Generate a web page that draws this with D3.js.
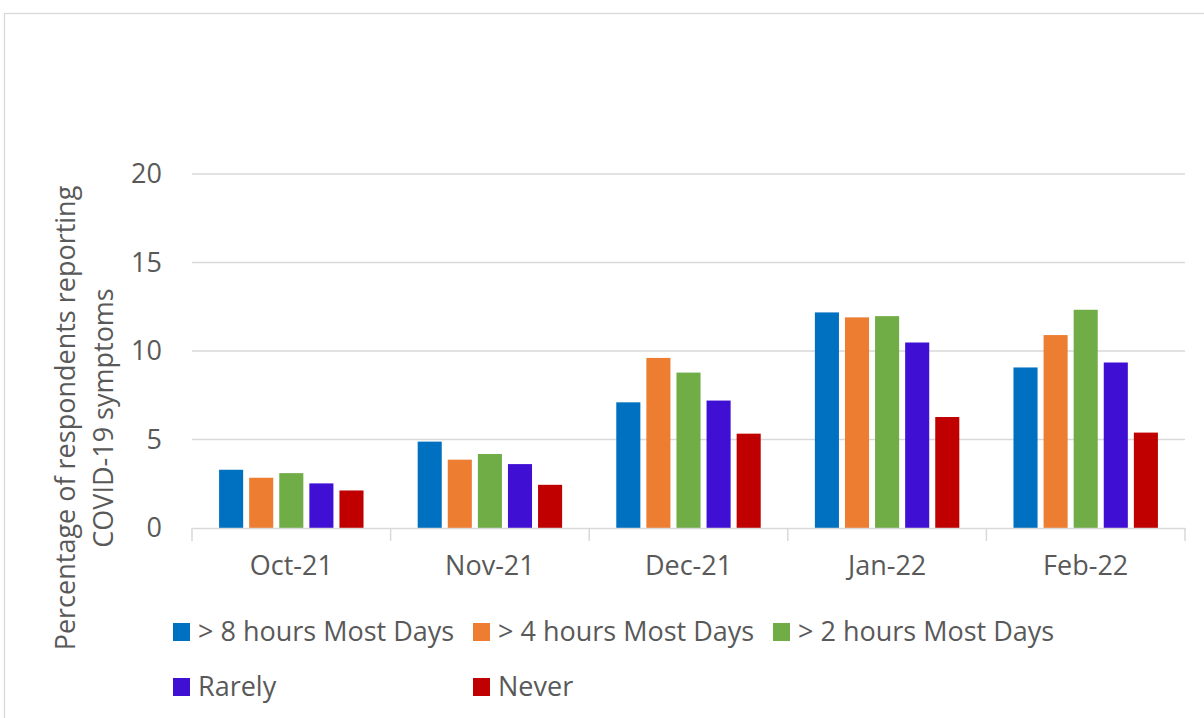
<!DOCTYPE html>
<html>
<head>
<meta charset="utf-8">
<script src="https://cdn.jsdelivr.net/npm/d3@7"></script>
<style>
  body { margin: 0; background: #fff; }
  svg text { font-family: "Open Sans", "Noto Sans", sans-serif; fill: #595959; }
</style>
</head>
<body>
<svg id="chart" width="1204" height="718"></svg>
<script>
// data
const months = ["Oct-21", "Nov-21", "Dec-21", "Jan-22", "Feb-22"];
const seriesNames = ["> 8 hours Most Days", "> 4 hours Most Days", "> 2 hours Most Days", "Rarely", "Never"];
const seriesColors = ["#0070C0", "#ED7D31", "#70AD47", "#3F0FD4", "#C00000"];
const over8 = [3.29, 4.88, 7.10, 12.18, 9.07];
const over4 = [2.84, 3.86, 9.61, 11.90, 10.90];
const over2 = [3.10, 4.18, 8.78, 11.97, 12.33];
const rarely = [2.52, 3.61, 7.20, 10.48, 9.35];
const never = [2.12, 2.44, 5.33, 6.27, 5.39];
const yTicks = [0, 5, 10, 15, 20];

const values = [over8, over4, over2, rarely, never];

const svg = d3.select('svg#chart');
const margin = { top: 174, left: 192, right: 19, bottom: 190 };
const width = 1204 - margin.left - margin.right;
const height = 718 - margin.top - margin.bottom;

// outer chart frame
svg.append('rect')
  .attr('x', 4.5).attr('y', 13.5)
  .attr('width', 1210).attr('height', 720)
  .attr('fill', 'none')
  .attr('stroke', '#d9d9d9')
  .attr('stroke-width', 1.3);

const g = svg.append('g')
  .attr('transform', `translate(${margin.left},${margin.top})`);

const xScale = d3.scaleBand()
  .domain(months)
  .range([0, width]);

const innerScale = d3.scaleBand()
  .domain(seriesNames)
  .range([0, xScale.bandwidth()])
  .paddingInner(0.2)
  .paddingOuter(0.9);

const yScale = d3.scaleLinear()
  .domain([0, 20])
  .range([height, 0]);

// gridlines
g.append('g')
  .selectAll('line')
  .data(yTicks.filter(d => d > 0))
  .enter()
  .append('line')
  .attr('x1', 0).attr('x2', width)
  .attr('y1', d => yScale(d)).attr('y2', d => yScale(d))
  .attr('stroke', '#d9d9d9')
  .attr('stroke-width', 1.5);

// y axis labels
const yAxis = d3.axisLeft(yScale)
  .tickValues(yTicks)
  .tickSize(0)
  .tickPadding(30);
const yAxisG = g.append('g').call(yAxis);
yAxisG.select('.domain').remove();
yAxisG.selectAll('text')
  .style('font-size', '27px');

// bars
const bars = g.append('g');
months.forEach((m, i) => {
  bars.append('g')
    .attr('transform', `translate(${xScale(m)},0)`)
    .selectAll('rect')
    .data(seriesNames)
    .enter()
    .append('rect')
    .attr('x', s => innerScale(s))
    .attr('width', innerScale.bandwidth())
    .attr('y', (s, k) => yScale(values[k][i]))
    .attr('height', (s, k) => yScale(0) - yScale(values[k][i]))
    .attr('fill', (s, k) => seriesColors[k]);
});

// x axis
const xAxis = d3.axisBottom(xScale).tickSize(0).tickPadding(28);
const xAxisG = g.append('g')
  .attr('transform', `translate(0,${height})`)
  .call(xAxis);
xAxisG.select('.domain')
  .attr('stroke', '#d9d9d9')
  .attr('stroke-width', 1.5);
xAxisG.selectAll('text').style('font-size', '27px');
xAxisG.append('g')
  .selectAll('line')
  .data(months.concat(['end']))
  .enter()
  .append('line')
  .attr('x1', (d, i) => i * xScale.step())
  .attr('x2', (d, i) => i * xScale.step())
  .attr('y1', 0).attr('y2', 13)
  .attr('stroke', '#d9d9d9')
  .attr('stroke-width', 1.5);

// y axis title
const yTitle = svg.append('text')
  .attr('transform', `translate(75,418) rotate(-90)`)
  .attr('text-anchor', 'middle')
  .style('font-size', '27px');
yTitle.append('tspan').attr('x', 0).attr('dy', 0).text('Percentage of respondents reporting');
yTitle.append('tspan').attr('x', 0).attr('dy', 38).text('COVID-19 symptoms');

// legend
const legend = svg.append('g');
const items = legend.selectAll('g')
  .data(seriesNames)
  .enter()
  .append('g')
  .attr('transform', (d, i) => `translate(${173 + (i % 3) * 300},${632 + Math.floor(i / 3) * 55})`);
items.append('rect')
  .attr('x', 0).attr('y', -9)
  .attr('width', 17).attr('height', 18)
  .attr('fill', (d, i) => seriesColors[i]);
items.append('text')
  .attr('x', 25).attr('y', 0)
  .attr('dy', '0.35em')
  .style('font-size', '27px')
  .text(d => d);
</script>
</body>
</html>
